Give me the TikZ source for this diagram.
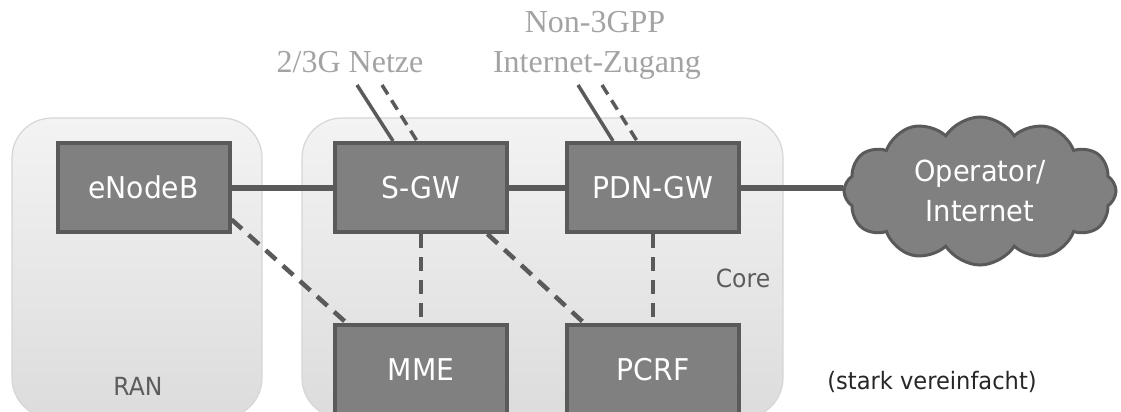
\documentclass[tikz,border=0pt]{standalone}
\usepackage{fontspec}
\setmainfont{DejaVu Sans}[FakeStretch=0.94]
\newfontfamily\labelserif{Liberation Serif}
\usetikzlibrary{shapes.symbols,calc}

\definecolor{boxfill}{HTML}{808080}
\definecolor{boxline}{HTML}{5A5A5A}
\definecolor{areatop}{HTML}{F3F3F3}
\definecolor{areabot}{HTML}{DCDCDC}
\definecolor{arealine}{HTML}{D6D6D6}
\definecolor{areatext}{HTML}{5C5C5C}
\definecolor{extlabel}{HTML}{A3A3A3}

\tikzset{
  area/.style={draw=arealine, line width=1.2pt, rounded corners=40pt,
    top color=areatop, bottom color=areabot},
  netbox/.style={draw=boxline, fill=boxfill, line width=4pt,
    minimum width=172pt, minimum height=89pt, inner sep=0pt,
    text=white, font=\fontsize{30}{34}\selectfont},
  areaname/.style={text=areatext, font=\fontsize{25}{29}\selectfont, anchor=base},
  extname/.style={text=extlabel, font=\labelserif\fontsize{32}{38}\selectfont, anchor=base},
  userlink/.style={draw=boxline, line width=6pt},
  ctrllink/.style={draw=boxline, line width=4.5pt, dash pattern=on 14pt off 9pt},
  extuser/.style={draw=boxline, line width=3.5pt},
  extctrl/.style={draw=boxline, line width=3.5pt, dash pattern=on 11pt off 7pt},
}

\begin{document}
\begin{tikzpicture}[x=1pt, y=-1pt]
\useasboundingbox (0,0) rectangle (1121,412);
\clip (0,0) rectangle (1121,412);

% radio access and core areas
\path[area] (12,118) rectangle (262,418);
\path[area] (302,118) rectangle (783,418);
\node[areaname] (ran) at (138,395) {RAN};
\node[areaname] (core) at (743,287) {Core};

% network elements
\node[netbox] (enb)  at (143.5,187.5) {eNodeB};
\node[netbox] (sgw)  at (421,187.5) {S-GW};
\node[netbox] (pgw)  at (653,187.5) {PDN-GW};
\node[netbox] (mme)  at (421,369.5) {MME};
\node[netbox] (pcrf) at (653,369.5) {PCRF};

\node[cloud, cloud puffs=12, cloud puff arc=115, aspect=1.8,
      draw=boxline, fill=boxfill, line width=3pt,
      minimum width=272pt, minimum height=148pt, inner sep=0pt,
      text=white, align=center, font=\fontsize{29}{40}\selectfont]
      (net) at (980,191) {Operator/\\Internet};

% user plane
\draw[userlink] (enb) -- (sgw);
\draw[userlink] (sgw) -- (pgw);
\draw[userlink] (pgw.east) -- (pgw.east -| net.west);

% control plane
\draw[ctrllink] (enb.-20) -- (mme.148);
\draw[ctrllink] (sgw) -- (mme);
\draw[ctrllink] (sgw.-35) -- (pcrf.146);
\draw[ctrllink] (pgw) -- (pcrf);

% access from other networks
\node[extname] (legacy) at (350,72) {2/3G Netze};
\node[extname] (non3gpp) at (595,33) {Non-3GPP};
\node[extname] (inet) at (597,73) {Internet-Zugang};

\coordinate (lu) at (357,85);
\coordinate (lc) at (382,85);
\coordinate (nu) at (578,85);
\coordinate (nc) at (602,85);
\draw[extuser] (lu) -- ($(sgw.north west)+(60,0)$);
\draw[extctrl] (lc) -- ($(sgw.north west)+(84,0)$);
\draw[extuser] (nu) -- ($(pgw.north west)+(48,0)$);
\draw[extctrl] (nc) -- ($(pgw.north west)+(72,0)$);

\node[anchor=base, text=black!85, font=\fontsize{24}{28}\selectfont]
  (note) at (932,389) {(stark vereinfacht)};
\end{tikzpicture}
\end{document}
